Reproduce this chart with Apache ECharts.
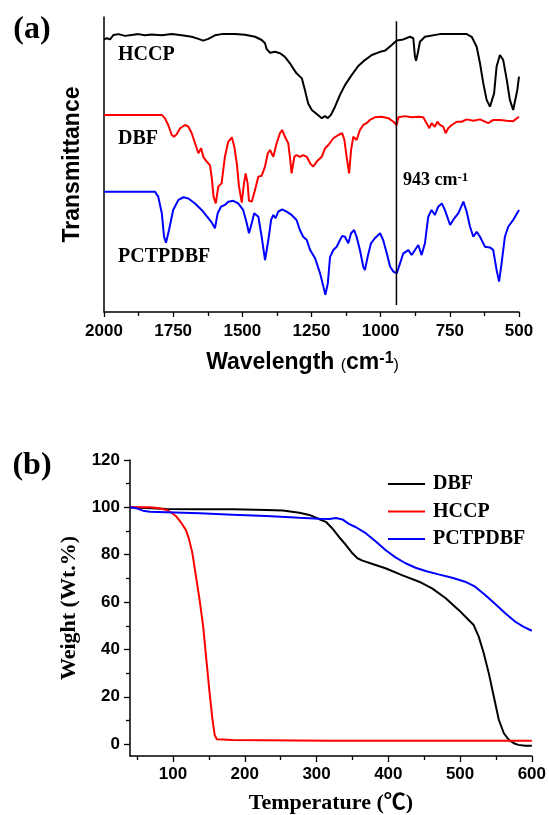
<!DOCTYPE html>
<html>
<head>
<meta charset="utf-8">
<title>FTIR and TGA of HCCP, DBF and PCTPDBF</title>
<script src="https://cdn.jsdelivr.net/npm/echarts@6/dist/echarts.min.js"></script>
<style>
  html, body { margin: 0; padding: 0; background: #ffffff; }
  #chart { width: 549px; height: 815px; }
</style>
</head>
<body>
<div id="chart"></div>
<script>
// ---- (a) FTIR spectra: [wavenumber (cm-1), transmittance (a.u., traces offset)] ----
const ftirHCCP = [
  [2000, 92.4], [1990, 92.8], [1978, 92.4], [1966, 93.9], [1948, 94.2], [1924, 93.6], [1900, 93.9],
  [1876, 94.2], [1852, 93.8], [1828, 94.1], [1791, 93.8], [1755, 94.2], [1719, 93.8], [1683, 93.3],
  [1659, 92.6], [1641, 92.0], [1623, 92.6], [1599, 93.8], [1575, 94.2], [1527, 94.2], [1490, 94.0],
  [1454, 93.3], [1430, 92.2], [1418, 91.1], [1412, 89.1], [1400, 87.9], [1382, 88.2], [1364, 87.7],
  [1346, 86.5], [1328, 84.3], [1312, 82.0], [1304, 80.9], [1298, 81.5], [1285, 79.2], [1274, 75.3],
  [1262, 70.7], [1249, 68.5], [1231, 67.1], [1213, 65.7], [1201, 66.4], [1191, 65.7], [1180, 66.8],
  [1165, 69.6], [1147, 73.6], [1129, 76.9], [1105, 80.3], [1081, 83.4], [1057, 85.4], [1032, 87.1],
  [1002, 88.2], [984, 88.6], [960, 90.5], [942, 92.0], [918, 92.4], [894, 93.3], [882, 92.8],
  [876, 86.5], [872, 85.2], [866, 87.7], [858, 91.6], [840, 93.3], [834, 93.6], [786, 94.2],
  [738, 94.2], [689, 94.2], [671, 93.3], [653, 89.9], [641, 84.3], [629, 77.5], [617, 71.9],
  [605, 69.6], [598, 69.0], [590, 74.1], [581, 83.2], [569, 87.1], [557, 85.4], [544, 78.6],
  [533, 71.9], [521, 68.5], [514, 69.0], [506, 75.3], [500, 79.8]
];
const ftirDBF = [
  [2000, 66.8], [1791, 66.8], [1780, 65.7], [1768, 63.4], [1755, 60.0], [1747, 59.4], [1737, 60.3],
  [1725, 62.3], [1707, 63.4], [1695, 62.8], [1683, 60.6], [1671, 57.2], [1659, 53.8], [1649, 55.5],
  [1641, 52.6], [1629, 51.0], [1623, 51.5], [1617, 49.8], [1611, 45.9], [1604, 39.1], [1596, 36.8],
  [1587, 42.5], [1575, 43.6], [1563, 52.6], [1551, 57.7], [1538, 59.2], [1529, 56.0], [1520, 50.4],
  [1512, 42.5], [1502, 37.1], [1494, 43.6], [1488, 47.0], [1481, 43.6], [1476, 37.7], [1466, 37.4],
  [1454, 41.4], [1442, 45.9], [1430, 46.2], [1418, 49.3], [1408, 53.8], [1400, 54.9], [1388, 52.6],
  [1376, 57.2], [1364, 60.6], [1356, 61.7], [1346, 59.4], [1334, 57.2], [1328, 52.6], [1322, 47.0],
  [1312, 52.6], [1304, 53.2], [1292, 52.6], [1280, 53.2], [1267, 52.6], [1255, 50.4], [1244, 49.3],
  [1231, 51.0], [1213, 52.6], [1201, 55.5], [1189, 56.6], [1171, 58.9], [1153, 60.0], [1139, 60.6],
  [1131, 58.3], [1123, 52.6], [1114, 47.0], [1107, 54.9], [1099, 59.4], [1087, 58.3], [1075, 61.7],
  [1063, 63.4], [1051, 64.0], [1039, 65.1], [1021, 66.0], [996, 66.2], [972, 65.7], [954, 64.5],
  [942, 63.4], [936, 66.0], [912, 66.4], [888, 66.0], [864, 66.2], [846, 66.0], [834, 64.0],
  [824, 62.3], [816, 64.0], [804, 62.8], [795, 64.5], [786, 63.4], [774, 62.8], [765, 60.6],
  [756, 62.3], [743, 63.4], [725, 64.5], [707, 64.5], [689, 65.3], [665, 64.8], [641, 65.3],
  [611, 64.0], [593, 65.1], [569, 65.1], [544, 64.8], [521, 64.7], [500, 66.2]
];
const ftirPCTPDBF = [
  [2000, 40.8], [1816, 40.8], [1804, 39.1], [1791, 33.5], [1783, 25.5], [1776, 23.5], [1765, 27.8],
  [1750, 34.6], [1731, 38.0], [1713, 38.9], [1695, 38.5], [1671, 36.8], [1647, 34.6], [1623, 31.8],
  [1609, 30.1], [1599, 28.4], [1589, 33.5], [1577, 35.7], [1563, 36.3], [1551, 37.4], [1533, 37.7],
  [1515, 36.8], [1497, 34.6], [1484, 30.1], [1476, 26.7], [1466, 30.1], [1457, 33.5], [1442, 32.3],
  [1430, 25.5], [1418, 17.6], [1415, 17.4], [1406, 24.4], [1396, 31.2], [1388, 32.9], [1380, 31.8],
  [1370, 34.0], [1356, 34.8], [1340, 34.0], [1322, 32.9], [1304, 31.2], [1292, 27.8], [1280, 25.5],
  [1267, 24.4], [1255, 21.0], [1237, 18.2], [1219, 13.1], [1207, 8.6], [1200, 5.8], [1191, 9.7],
  [1183, 18.7], [1171, 21.0], [1159, 22.1], [1147, 24.4], [1139, 25.8], [1129, 25.5], [1117, 23.3],
  [1107, 26.7], [1096, 27.8], [1087, 25.5], [1075, 21.0], [1063, 15.4], [1057, 14.2], [1047, 18.7],
  [1035, 23.3], [1021, 25.0], [1002, 26.7], [991, 24.4], [978, 19.9], [966, 15.4], [954, 13.7],
  [942, 13.1], [930, 16.5], [918, 19.9], [900, 21.0], [888, 19.3], [876, 21.0], [864, 22.7],
  [852, 19.3], [840, 23.3], [828, 32.3], [816, 34.6], [804, 32.9], [792, 35.7], [779, 36.8],
  [768, 34.6], [749, 29.5], [738, 31.2], [719, 33.5], [701, 37.4], [689, 34.0], [677, 28.9],
  [665, 25.5], [653, 27.2], [641, 25.5], [623, 22.1], [605, 21.9], [593, 21.0], [581, 14.2],
  [572, 10.3], [563, 16.5], [551, 25.5], [539, 28.9], [521, 31.2], [500, 34.6]
];
// reference line at the P-O-C band
const markerWavenumber = 943;
const markerSpan = [2.4, 98.6];

// ---- (b) TGA curves: [temperature (°C), weight (wt.%)] ----
const tgaDBF = [
  [40, 100.0], [91, 99.3], [137, 99.2], [183, 99.2], [230, 98.9], [253, 98.7], [276, 97.7],
  [290, 96.8], [304, 95.0], [313, 93.9], [322, 91.1], [331, 87.6], [341, 84.1], [350, 80.6],
  [357, 78.5], [364, 77.5], [378, 76.1], [396, 74.3], [419, 71.4], [443, 68.6], [461, 65.8],
  [480, 61.6], [498, 56.7], [512, 52.4], [519, 50.3], [526, 45.4], [533, 38.4], [540, 30.0],
  [547, 20.1], [554, 10.3], [561, 4.6], [568, 1.8], [575, 0.4], [581, -0.3], [591, -0.7], [600, -0.7]
];
const tgaHCCP = [
  [40, 100.0], [68, 100.0], [81, 99.6], [91, 98.9], [98, 97.7], [105, 96.0], [112, 93.2],
  [118, 90.4], [122, 86.9], [127, 80.6], [132, 70.7], [137, 60.9], [142, 49.6], [146, 37.0],
  [151, 21.5], [155, 10.3], [158, 3.9], [161, 2.1], [183, 1.8], [318, 1.4], [600, 1.4]
];
const tgaPCTPDBF = [
  [40, 100.0], [49, 99.6], [58, 98.6], [68, 98.1], [91, 97.9], [137, 97.5], [183, 96.9],
  [230, 96.3], [276, 95.6], [304, 95.2], [318, 95.1], [327, 95.5], [336, 94.9], [345, 93.0],
  [355, 91.6], [369, 89.0], [383, 85.5], [396, 82.0], [410, 78.9], [424, 76.4], [438, 74.5],
  [452, 73.1], [470, 71.7], [489, 70.3], [507, 68.6], [521, 66.5], [535, 63.0], [549, 59.2],
  [563, 55.3], [577, 51.7], [588, 49.6], [600, 47.9]
];
const tempTicks = [100, 200, 300, 400, 500, 600];
const tempMinorTicks = [50, 150, 250, 350, 450, 550];
const weightTicks = [0, 20, 40, 60, 80, 100, 120];
const weightMinorTicks = [10, 30, 50, 70, 90, 110];

const SANS = '"Liberation Sans", Arial, sans-serif';
const SERIF = '"Liberation Serif", "Times New Roman", "Noto Sans CJK SC", serif';
const BLACK = '#000000', RED = '#ff0000', BLUE = '#0000ff';

const axisLineStyle = { lineStyle: { color: BLACK, width: 1.5 }, onZero: false };
const tickStyle = { color: BLACK, width: 1.3 };
const plainNumber = v => String(v);

const chart = echarts.init(document.getElementById('chart'), null, { renderer: 'canvas' });

function lineSeries(name, data, color, xIdx, yIdx) {
  return {
    name, type: 'line', xAxisIndex: xIdx, yAxisIndex: yIdx, data,
    symbol: 'none', silent: true, smooth: false,
    lineStyle: { color, width: 2 }, itemStyle: { color }
  };
}

const option = {
  animation: false,
  backgroundColor: '#ffffff',
  grid: [
    { left: 104, right: 30, top: 17, height: 295 },
    { left: 130, right: 16, top: 460, height: 297 }
  ],
  xAxis: [
    {
      gridIndex: 0, type: 'value', min: 500, max: 2000, interval: 250, inverse: true,
      axisLine: axisLineStyle,
      axisTick: { show: true, length: 5, lineStyle: tickStyle },
      minorTick: { show: true, splitNumber: 2, length: 4, lineStyle: tickStyle },
      splitLine: { show: false }, minorSplitLine: { show: false },
      axisLabel: { color: BLACK, fontFamily: SANS, fontWeight: 'bold', fontSize: 17, margin: 11, formatter: plainNumber },
      name: '{t|Wavelength }{p|(}{t|cm}{s|-1}{p|)}',
      nameLocation: 'middle', nameGap: 39,
      nameTextStyle: {
        color: BLACK,
        padding: [0, 18, 0, 0],
        rich: {
          t: { fontFamily: SANS, fontWeight: 'bold', fontSize: 23, color: BLACK },
          p: { fontFamily: SANS, fontWeight: 'normal', fontSize: 16, color: BLACK, verticalAlign: 'bottom' },
          s: { fontFamily: SANS, fontWeight: 'bold', fontSize: 16, color: BLACK, verticalAlign: 'top' }
        }
      }
    },
    {
      gridIndex: 1, type: 'value', min: 40, max: 600,
      axisLine: axisLineStyle,
      axisTick: { show: true, length: 6, lineStyle: tickStyle, customValues: tempTicks },
      splitLine: { show: false },
      axisLabel: { color: BLACK, fontFamily: SANS, fontWeight: 'bold', fontSize: 17, margin: 10,
                   customValues: tempTicks, formatter: plainNumber },
      name: 'Temperature (℃)', nameLocation: 'middle', nameGap: 36,
      nameTextStyle: { color: BLACK, fontFamily: SERIF, fontWeight: 'bold', fontSize: 22 }
    },
    {
      gridIndex: 1, type: 'value', min: 40, max: 600, position: 'bottom',
      axisLine: { show: false, onZero: false },
      axisTick: { show: true, length: 4, lineStyle: tickStyle, customValues: tempMinorTicks },
      axisLabel: { show: false }, splitLine: { show: false }
    }
  ],
  yAxis: [
    {
      gridIndex: 0, type: 'value', min: 0, max: 100,
      axisLine: { show: true, lineStyle: { color: BLACK, width: 1.5 }, onZero: false },
      axisTick: { show: false }, axisLabel: { show: false }, splitLine: { show: false },
      name: 'Transmittance', nameLocation: 'middle', nameRotate: 90, nameGap: 20,
      nameTextStyle: { color: BLACK, fontFamily: SANS, fontWeight: 'bold', fontSize: 23 }
    },
    {
      gridIndex: 1, type: 'value', min: -5, max: 120,
      axisLine: { show: true, lineStyle: { color: BLACK, width: 1.5 }, onZero: false },
      axisTick: { show: true, length: 6, lineStyle: tickStyle, customValues: weightTicks },
      splitLine: { show: false },
      axisLabel: { color: BLACK, fontFamily: SANS, fontWeight: 'bold', fontSize: 17, margin: 10,
                   customValues: weightTicks, formatter: plainNumber },
      name: 'Weight (Wt.%)', nameLocation: 'middle', nameRotate: 90, nameGap: 47,
      nameTextStyle: { color: BLACK, fontFamily: SERIF, fontWeight: 'bold', fontSize: 22 }
    },
    {
      gridIndex: 1, type: 'value', min: -5, max: 120, position: 'left',
      axisLine: { show: false, onZero: false },
      axisTick: { show: true, length: 4, lineStyle: tickStyle, customValues: weightMinorTicks },
      axisLabel: { show: false }, splitLine: { show: false }
    }
  ],
  legend: {
    data: ['DBF', 'HCCP', 'PCTPDBF'],
    orient: 'vertical', left: 383, top: 469,
    icon: 'rect', itemWidth: 37, itemHeight: 2, itemGap: 7.5,
    selectedMode: false,
    textStyle: { color: BLACK, fontFamily: SERIF, fontWeight: 'bold', fontSize: 20, padding: [0, 0, 0, 3] }
  },
  series: [
    // panel (a)
    lineSeries('HCCP IR', ftirHCCP, BLACK, 0, 0),
    lineSeries('DBF IR', ftirDBF, RED, 0, 0),
    lineSeries('PCTPDBF IR', ftirPCTPDBF, BLUE, 0, 0),
    {
      name: '943 line', type: 'line', xAxisIndex: 0, yAxisIndex: 0, symbol: 'none', silent: true,
      data: markerSpan.map(v => [markerWavenumber, v]),
      lineStyle: { color: BLACK, width: 1.5 }
    },
    // panel (b)
    lineSeries('DBF', tgaDBF, BLACK, 1, 1),
    lineSeries('HCCP', tgaHCCP, RED, 1, 1),
    lineSeries('PCTPDBF', tgaPCTPDBF, BLUE, 1, 1)
  ],
  graphic: [
    { type: 'text', x: 32, y: 30, silent: true,
      style: { text: '(a)', fill: BLACK, font: 'bold 32px ' + SERIF, align: 'center', verticalAlign: 'middle' } },
    { type: 'text', x: 32, y: 466, silent: true,
      style: { text: '(b)', fill: BLACK, font: 'bold 32px ' + SERIF, align: 'center', verticalAlign: 'middle' } },
    { type: 'text', x: 118, y: 55, silent: true,
      style: { text: 'HCCP', fill: BLACK, font: 'bold 20px ' + SERIF, align: 'left', verticalAlign: 'middle' } },
    { type: 'text', x: 118, y: 139, silent: true,
      style: { text: 'DBF', fill: BLACK, font: 'bold 20px ' + SERIF, align: 'left', verticalAlign: 'middle' } },
    { type: 'text', x: 118, y: 257, silent: true,
      style: { text: 'PCTPDBF', fill: BLACK, font: 'bold 20px ' + SERIF, align: 'left', verticalAlign: 'middle' } },
    { type: 'text', x: 403, y: 180, silent: true,
      style: {
        text: '{n|943 cm}{s|-1}', align: 'left', verticalAlign: 'middle',
        rich: {
          n: { fontFamily: SERIF, fontWeight: 'bold', fontSize: 18, fill: BLACK, color: BLACK },
          s: { fontFamily: SERIF, fontWeight: 'bold', fontSize: 13, fill: BLACK, color: BLACK, verticalAlign: 'top' }
        }
      } }
  ]
};

chart.setOption(option);
</script>
</body>
</html>
